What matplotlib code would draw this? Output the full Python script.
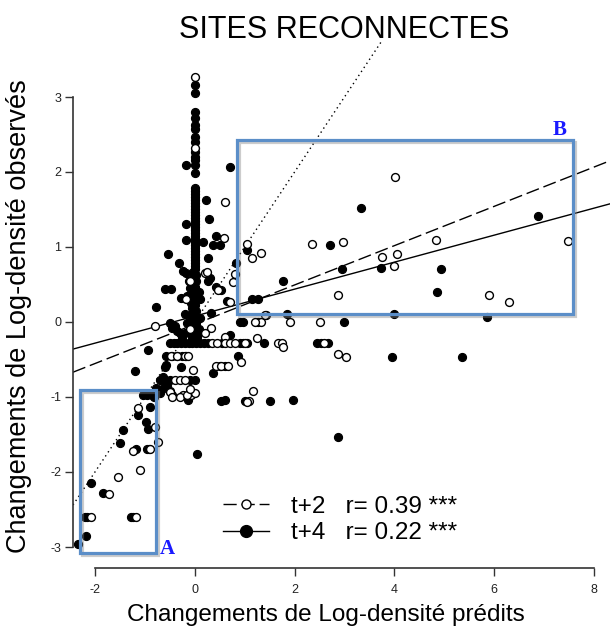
import matplotlib
matplotlib.use("Agg")
import matplotlib.pyplot as plt
import matplotlib.patheffects as pe
from matplotlib.patches import Rectangle
from matplotlib.lines import Line2D

plt.rcParams['font.family'] = ['Liberation Sans', 'DejaVu Sans']
plt.rcParams['axes.unicode_minus'] = False

# t+4 (filled circles), off the x=0 column
x_t4 = [-2.07, -1.84, -2.20, -2.16, -1.27, -1.23, -2.18, -2.34, -1.44, -1.50,
        -1.17, -0.96, -0.92, -0.94, -0.97, -1.14, -0.90, -1.04, -0.95, -0.86,
        -0.82, -0.77, -0.70, -0.65, -0.60, -0.63, -0.55, -0.50, -0.45, -0.70,
        -0.60, -0.50, -0.13, -0.10, 0.00, -0.60, -0.57, -0.27, -0.57, -0.45,
        -0.35, -0.25, -0.17, -0.94, -1.20,
        -0.50, -0.42, -0.35, -0.28, -0.20, -0.12, -0.05, 0.02, 0.10, 0.18,
        0.26, 0.55, 0.90, 0.97, 1.05, 1.38, 2.45, 2.52, 2.67,
        -0.50, -0.45, -0.40, -0.35, -0.30, -0.20, -0.10, -0.05, 0.05, -0.25,
        0.70, 0.90, 0.97, 1.27, 2.99, 1.84, 3.99, 5.85, 0.87, 0.37,
        0.50, 0.60, 0.53, 0.60, 1.00, 1.50, 1.97, 2.87, 0.05, 3.95,
        5.36, 0.33,
        -0.17, 0.70, 0.23, 0.28, -0.18, -0.17, 0.17, 0.43, 0.50, 0.37,
        0.27, -0.53, -0.31, -0.23, -0.17, 0.30, 0.27, 0.43, 0.53, 0.64,
        -0.60, -0.47, -0.78, -0.27, 0.82, 1.05, 1.14, 1.26, 1.77, 2.71,
        2.94, 3.34, 3.73, 4.93, 4.86, 6.87,
        -0.12, -0.10, 0.08, -0.15, 0.10, -0.08, -0.20, 0.10, -0.15, 0.08]
y_t4 = [-2.15, -2.28, -2.60, -2.60, -2.60, -2.60, -2.85, -2.96, -1.44, -1.61,
        -1.69, -1.69, -1.69, -1.43, -1.33, -1.24, -1.13, -0.97, -0.97, -0.97,
        -1.00, -0.88, -0.95, -0.90, -0.80, -0.73, -0.85, -0.92, -0.97, -0.77,
        -0.77, -0.77, -1.04, -0.77, -0.77, -0.60, -0.57, -0.60, -0.46, -0.46,
        -0.46, -0.46, -0.46, -0.38, -0.65,
        -0.28, -0.28, -0.28, -0.28, -0.28, -0.28, -0.28, -0.28, -0.28, -0.28,
        -0.28, -0.28, -0.28, -0.28, -0.28, -0.28, -0.28, -0.28, -0.28,
        -0.02, -0.08, -0.05, -0.12, -0.15, -0.15, -0.13, -0.05, -0.20, -0.20,
        -0.17, 0.00, 0.00, 0.00, 0.00, 0.11, 0.11, 0.06, -0.46, -0.68,
        -0.59, -0.59, -1.06, -1.04, -1.06, -1.05, -1.04, -1.54, -1.76, -0.47,
        -0.47, 0.12,
        2.09, 2.06, 1.62, 1.37, 1.30, 1.09, 1.07, 1.14, 1.03, 1.03,
        0.85, 0.91, 0.78, 0.68, 0.65, 0.58, 0.54, 0.47, 0.43, 0.28,
        0.44, 0.44, 0.20, 0.32, 0.78, 0.96, 0.30, 0.30, 0.55, 1.02,
        0.70, 1.52, 0.72, 0.70, 0.40, 1.41,
        0.55, 0.45, 0.40, 0.35, 0.30, 0.25, 0.10, 0.05, -0.02, -0.10]

# t+4 points stacked on the x=0 column
col_y = [3.16, 3.05, 2.80, 2.72, 2.63, 2.57, 2.47, 2.40, 2.27, 2.20,
         2.16, 2.09, 1.98, 1.78, 1.74, 1.70, 1.66, 1.62, 1.58, 1.54,
         1.50, 1.46, 1.42, 1.38, 1.34, 1.30, 1.26, 1.22, 1.18, 1.14,
         1.10, 1.06, 1.02, 0.98, 0.94, 0.90, 0.86, 0.82, 0.78, 0.74,
         0.70, 0.66, 0.62, 0.58, 0.54, 0.50, 0.46, 0.42, 0.38, 0.34,
         0.30, 0.26, 0.22, 0.18, 0.14, 0.10, 0.06, 0.02, -0.02, -0.06,
         -0.10, -0.14, -0.18, -0.22]
col_x = [0.00, 0.00, 0.00, 0.00, 0.00, 0.00, 0.00, 0.00, 0.00, 0.00,
         0.00, 0.00, 0.00, 0.00, 0.00, 0.00, 0.00, 0.00, 0.00, 0.00,
         0.00, 0.00, 0.00, 0.00, 0.00, 0.00, 0.00, 0.00, 0.00, 0.00,
         0.00, 0.00, 0.00, 0.00, 0.00, 0.00, 0.00, 0.00, 0.00, 0.00,
         0.00, -0.03, 0.02, -0.04, 0.03, -0.05, 0.00, -0.03, 0.02, -0.06,
         0.03, -0.04, 0.00, -0.06, 0.02, -0.05, 0.00, -0.08, 0.03, -0.06,
         0.00, -0.10, 0.04, -0.06]

# t+2 (open circles)
x_t2 = [-1.72, -1.54, -1.09, -2.07, -1.18, -1.24, -0.89, -0.73, -0.80, -1.14,
        -0.23, -0.07, 0.00, 1.17, 1.09, -0.40, -0.30, -0.20, -0.50, -0.45,
        -0.30, -0.15, -0.10, -0.03, 0.43, 0.53, 0.67, 0.92, -0.47, -0.35,
        -0.20, -0.13, 0.60, 1.25, 1.42, 1.32, 1.20, 1.90, 2.51, 2.86,
        3.03, 1.05, 6.30, 4.01, 7.47, 4.84, 2.34, 2.97, 3.75, 4.05,
        3.99, 2.87, 5.89, 1.05, 1.14, 1.32, 0.80, 0.77, 0.70, 1.40,
        1.67, 1.74, 1.76, 0.35, 0.45, 0.60, 0.70, 0.80, 1.00, 2.58,
        0.20, 0.60, 0.58, 0.47, -0.10, 0.25, -0.17, -0.80, 0.33, 0.00,
        0.00, -0.10, 0.20]
y_t2 = [-2.29, -2.07, -1.98, -2.60, -2.60, -1.72, -1.69, -1.60, -1.40, -1.15,
        -0.97, -0.97, -0.95, -0.92, -1.06, -0.77, -0.77, -0.77, -0.93, -1.00,
        -1.00, -0.97, -0.90, -0.64, -0.59, -0.59, -0.59, -0.53, -0.46, -0.46,
        -0.46, -0.46, -0.20, -0.22, 0.09, 0.00, 0.00, 0.00, 0.00, -0.43,
        -0.47, -1.07, 0.26, 1.93, 1.08, 1.09, 1.04, 1.06, 0.86, 0.91,
        0.74, 0.36, 0.36, 1.04, 0.85, 0.92, 0.64, 0.53, 0.26, 0.09,
        -0.28, -0.28, -0.34, -0.28, -0.28, -0.28, -0.28, -0.28, -0.28, -0.28,
        0.65, 1.60, 1.12, 0.43, 0.55, 0.66, 0.30, -0.06, -0.08, 3.26,
        2.32, -0.10, -0.15]

# regression lines (intercept, slope)
fit_t2 = (-0.03, 0.262)
fit_t4 = (0.078, 0.18)

# highlighted zones: (x0, y0, width, height)
zone_a = (-2.30, -3.08, 1.52, 2.17)
zone_b = (0.84, 0.11, 6.73, 2.32)

fig = plt.figure(figsize=(6.1, 6.28), dpi=100)
ax = fig.add_axes([73 / 610, 60 / 628, 537 / 610, 528 / 628])
ax.set_xlim(-2.44, 8.32)
ax.set_ylim(-3.28, 3.76)

ax.scatter(x_t4 + col_x, y_t4 + col_y, s=34, c='black', edgecolors='black',
           linewidths=0.8, zorder=3)
ax.scatter(x_t2, y_t2, s=32, facecolors='white', edgecolors='black',
           linewidths=1.0, zorder=4)

ax.axline((0, 0), slope=1, color='black', lw=1.0, ls=(0, (1, 2.5)), zorder=2)
ax.axline((0, fit_t2[0]), slope=fit_t2[1], color='black', lw=1.0,
          ls=(0, (9.5, 3.5)), zorder=2)
ax.axline((0, fit_t4[0]), slope=fit_t4[1], color='black', lw=1.0, zorder=2)

shadow = [pe.SimpleLineShadow(offset=(1.5, -1.5), shadow_color='gray', alpha=0.4),
          pe.Normal()]
for z in (zone_a, zone_b):
    r = Rectangle((z[0], z[1]), z[2], z[3], fill=False, edgecolor='#5B8EC8',
                  lw=2.3, zorder=5, clip_on=False)
    r.set_path_effects(shadow)
    ax.add_patch(r)
ax.text(-0.54, -3.02, 'A', color='#1a1aff', fontsize=15, fontweight='bold',
        family='Liberation Serif', ha='center', va='center')
ax.text(7.31, 2.56, 'B', color='#1a1aff', fontsize=15, fontweight='bold',
        family='Liberation Serif', ha='center', va='center')

for s in ('top', 'right'):
    ax.spines[s].set_visible(False)
ax.spines['left'].set_bounds(-3, 3)
ax.spines['bottom'].set_bounds(-2, 8)
for s in ('left', 'bottom'):
    ax.spines[s].set_linewidth(1.2)
    ax.spines[s].set_color('#333333')
ax.set_xticks([-2, 0, 2, 4, 6, 8])
ax.set_yticks([-3, -2, -1, 0, 1, 2, 3])
ax.tick_params(axis='both', direction='out', length=5.5, width=1.0,
               color='#333333', labelsize=9, labelcolor='#222222')
ax.tick_params(axis='x', pad=6)
ax.tick_params(axis='y', pad=3)

handles = [Line2D([], [], color='black', lw=1.0, ls=(0, (9.5, 3.5)), marker='o',
                  ms=6.5, mfc='white', mec='black', mew=1.0),
           Line2D([], [], color='black', lw=1.0, marker='o', ms=8.5,
                  mfc='black', mec='black')]
fig.legend(handles, ['t+2   r= 0.39 ***', 't+4   r= 0.22 ***'],
           loc='center left', bbox_to_anchor=(223 / 610, 1 - 520 / 628),
           frameon=False, fontsize=17.5, handlelength=1.9, handletextpad=0.9,
           labelspacing=0.2, borderpad=0, borderaxespad=0)

fig.text(344 / 610, 1 - 38 / 628, 'SITES RECONNECTES', fontsize=22,
         ha='center', va='baseline')
fig.text(326 / 610, 1 - 621 / 628, 'Changements de Log-densité prédits',
         fontsize=17.5, ha='center', va='baseline')
fig.text(19 / 610, 1 - 316 / 628, 'Changements de Log-densité observés',
         fontsize=19.5, ha='center', va='center', rotation=90)

fig.savefig('out.png', dpi=100)
